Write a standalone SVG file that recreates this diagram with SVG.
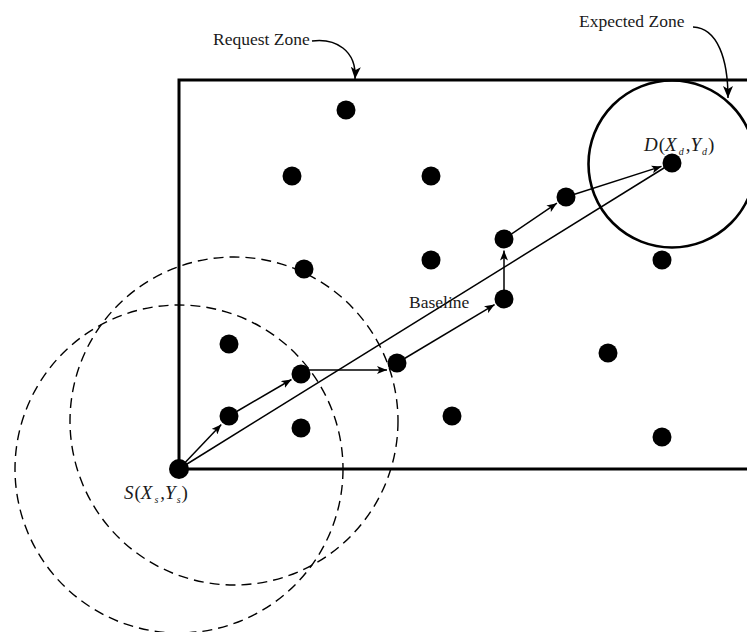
<svg xmlns="http://www.w3.org/2000/svg" width="747" height="632" viewBox="0 0 747 632">
<style>
.node{fill:#000}
.conn{stroke:#000;stroke-width:1.5;fill:none}
.dash{stroke:#000;stroke-width:1.4;fill:none;stroke-dasharray:10 6}
.lbl{font-family:"Liberation Serif",serif;font-size:17.5px;fill:#1a1a1a}
.math{font-family:"Liberation Serif",serif;font-size:19px;font-style:italic;fill:#1a1a1a}
.up{font-style:normal}
.sub{font-size:10px}
</style>
<defs>
<marker id="ah" markerUnits="userSpaceOnUse" markerWidth="10" markerHeight="8" viewBox="0 0 10 8" refX="10" refY="4" orient="auto">
<path d="M0,0 L10,4 L0,8 L2.5,4 Z" fill="#000"/>
</marker>
<marker id="ah2" markerUnits="userSpaceOnUse" markerWidth="12" markerHeight="10" viewBox="0 0 12 10" refX="12" refY="5" orient="auto">
<path d="M0,0 L12,5 L0,10 L3,5 Z" fill="#000"/>
</marker>
</defs>
<rect width="747" height="632" fill="#fff"/>
<g id="request-zone">
<rect x="179" y="80" width="600" height="389" fill="none" stroke="#000" stroke-width="3"/>
<text class="lbl" x="213" y="45">Request Zone</text>
<path class="conn" d="M312,41 C335,38 357,50 355,79" marker-end="url(#ah2)"/>
</g>
<g id="expected-zone">
<circle cx="672" cy="164" r="83.5" fill="none" stroke="#000" stroke-width="2.6"/>
<text class="lbl" x="579" y="27">Expected Zone</text>
<path class="conn" d="M693,27 C718,28 728,60 728,98" marker-end="url(#ah2)"/>
</g>
<g id="ranges">
<circle class="dash" cx="234" cy="421" r="164"/>
<circle class="dash" cx="179" cy="469" r="164"/>
</g>
<g id="connectors">
<line class="conn" x1="179" y1="469" x2="672" y2="163"/>
<line class="conn" x1="179" y1="469" x2="221.3" y2="424.5" marker-end="url(#ah)"/>
<line class="conn" x1="229" y1="416" x2="291.5" y2="379.5" marker-end="url(#ah)"/>
<line class="conn" x1="301" y1="370" x2="387" y2="370" marker-end="url(#ah)"/>
<line class="conn" x1="397" y1="363" x2="494.6" y2="304.6" marker-end="url(#ah)"/>
<line class="conn" x1="504" y1="299" x2="504" y2="250.5" marker-end="url(#ah)"/>
<line class="conn" x1="504" y1="239" x2="556.9" y2="203.2" marker-end="url(#ah)"/>
<line class="conn" x1="566" y1="197" x2="661.5" y2="166.4" marker-end="url(#ah)"/>
<text class="lbl" x="409" y="308">Baseline</text>
</g>
<g id="n1"><circle class="node" cx="346" cy="110" r="9.5"/></g>
<g id="n2"><circle class="node" cx="292" cy="176" r="9.5"/></g>
<g id="n3"><circle class="node" cx="431" cy="176" r="9.5"/></g>
<g id="n4"><circle class="node" cx="304" cy="269" r="9.5"/></g>
<g id="n5"><circle class="node" cx="431" cy="260" r="9.5"/></g>
<g id="n6"><circle class="node" cx="662" cy="260" r="9.5"/></g>
<g id="n7"><circle class="node" cx="229" cy="344" r="9.5"/></g>
<g id="n8"><circle class="node" cx="608" cy="353" r="9.5"/></g>
<g id="n9"><circle class="node" cx="229" cy="416" r="9.5"/></g>
<g id="n10"><circle class="node" cx="301" cy="374" r="9.5"/></g>
<g id="n11"><circle class="node" cx="397" cy="363" r="9.5"/></g>
<g id="n12"><circle class="node" cx="301" cy="428" r="9.5"/></g>
<g id="n13"><circle class="node" cx="452" cy="416" r="9.5"/></g>
<g id="n14"><circle class="node" cx="504" cy="299" r="9.5"/></g>
<g id="n15"><circle class="node" cx="504" cy="239" r="9.5"/></g>
<g id="n16"><circle class="node" cx="566" cy="197" r="9.5"/></g>
<g id="n17"><circle class="node" cx="662" cy="437" r="9.5"/></g>
<g id="source">
<circle class="node" cx="179" cy="469" r="10"/>
<text class="math" x="124" y="499">S<tspan class="up" dx="1">(</tspan>X<tspan class="sub" dx="2" dy="4">s</tspan><tspan class="up" dx="2" dy="-4">,</tspan>Y<tspan class="sub" dx="1" dy="4">s</tspan><tspan class="up" dx="1" dy="-4">)</tspan></text>
</g>
<g id="destination">
<circle class="node" cx="672" cy="163" r="9.5"/>
<text class="math" x="644" y="151">D<tspan class="up" dx="1">(</tspan>X<tspan class="sub" dx="2" dy="4">d</tspan><tspan class="up" dx="2" dy="-4">,</tspan>Y<tspan class="sub" dx="1" dy="4">d</tspan><tspan class="up" dx="1" dy="-4">)</tspan></text>
</g>
</svg>
